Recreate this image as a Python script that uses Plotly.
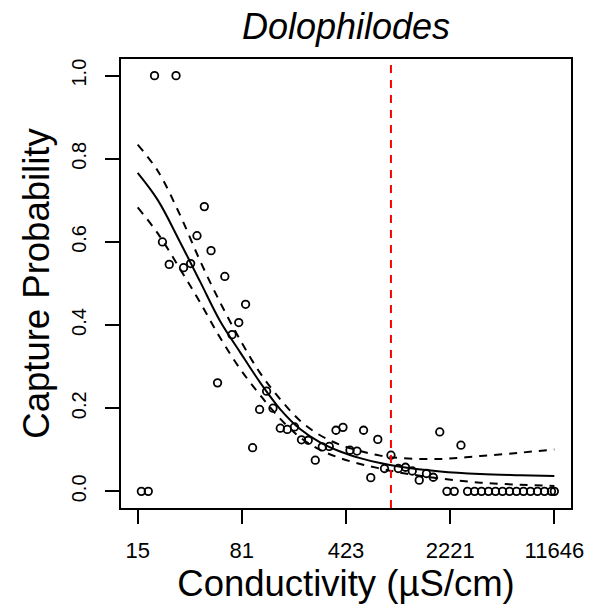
import plotly.graph_objects as go

# ---- data ----
conductivity = [16.3, 18.2, 20.1, 22.8, 25.4, 28.3, 31.9, 35.7, 39.5, 44.4, 49.4, 54.8,
                61.5, 69.0, 76.8, 85.6, 95.7, 107.0, 119.6, 132.4, 148.7, 166.2, 186.4,
                208.3, 232.1, 259.5, 290.1, 324.3, 360.8, 403.3, 450.8, 503.9, 559.7,
                627.6, 701.5, 780.4, 865.4, 972, 1090, 1214, 1357, 1522, 1696, 1881,
                2109, 2369, 2635, 2927, 3272, 3657, 4087, 4568, 5106, 5707, 6378, 7129,
                7968, 8906, 9954, 11126, 11646]
capture_prob = [0, 0, 1.0, 0.60, 0.546, 1.0, 0.538, 0.548, 0.615, 0.685, 0.579, 0.261,
                0.517, 0.377, 0.406, 0.450, 0.105, 0.197, 0.241, 0.200, 0.152, 0.149, 0.155,
                0.124, 0.123, 0.075, 0.107, 0.108, 0.147, 0.154, 0.099, 0.097, 0.147,
                0.033, 0.125, 0.055, 0.087, 0.055, 0.058, 0.049, 0.027, 0.043, 0.034, 0.143,
                0, 0, 0.111, 0, 0, 0, 0, 0, 0, 0, 0, 0,
                0, 0, 0, 0, 0]

curve_x = [15.37, 21.23, 30.14, 41.45, 56.99, 78.36, 107.75, 148.2, 203.7, 280.1,
           385.1, 529.6, 728.2, 1001.3, 1894, 3581, 6766, 11646]
fit_mid = [0.766, 0.700, 0.600, 0.505, 0.410, 0.335, 0.262, 0.198, 0.150, 0.118,
           0.096, 0.080, 0.068, 0.059, 0.048, 0.042, 0.039, 0.037]
fit_upper = [0.834, 0.770, 0.665, 0.555, 0.455, 0.365, 0.285, 0.222, 0.170, 0.135,
             0.112, 0.097, 0.086, 0.080, 0.078, 0.085, 0.093, 0.101]
fit_lower = [0.683, 0.620, 0.535, 0.455, 0.370, 0.295, 0.232, 0.175, 0.130, 0.100,
             0.080, 0.066, 0.055, 0.045, 0.031, 0.021, 0.016, 0.013]

threshold = 865
x_tick_vals = [15.37, 80.65, 423.1, 2221, 11646]
x_tick_text = ["15", "81", "423", "2221", "11646"]
y_tick_vals = [0, 0.2, 0.4, 0.6, 0.8, 1.0]
y_tick_text = ["0.0", "0.2", "0.4", "0.6", "0.8", "1.0"]

FONT = "Liberation Sans, Arial, Helvetica, sans-serif"

fig = go.Figure()
fig.add_trace(go.Scatter(x=conductivity, y=capture_prob, mode="markers",
                         marker=dict(symbol="circle-open", size=7.5, color="black",
                                     line=dict(width=1.8, color="black")),
                         cliponaxis=False, showlegend=False))
fig.add_trace(go.Scatter(x=curve_x, y=fit_mid, mode="lines", line_shape="spline",
                         line=dict(color="black", width=2), showlegend=False))
fig.add_trace(go.Scatter(x=curve_x, y=fit_upper, mode="lines", line_shape="spline",
                         line=dict(color="black", width=2, dash="8px,7px"), showlegend=False))
fig.add_trace(go.Scatter(x=curve_x, y=fit_lower, mode="lines", line_shape="spline",
                         line=dict(color="black", width=2, dash="8px,7px"), showlegend=False))
fig.add_trace(go.Scatter(x=[threshold, threshold], y=[-0.04, 1.04], mode="lines",
                         line=dict(color="#ff0000", width=2, dash="8px,7px"), showlegend=False))

fig.update_layout(
    width=604, height=607,
    margin=dict(l=121, r=33, t=59, b=99, autoexpand=False),
    plot_bgcolor="white", paper_bgcolor="white",
    font=dict(family=FONT, color="black"),
    title=dict(text="<i>Dolophilodes</i>", x=0.5, xref="paper", xanchor="center",
               y=1 - 26 / 607, yref="container", yanchor="middle", automargin=False,
               font=dict(size=36, family=FONT, color="black")),
)
fig.update_xaxes(type="log", range=[1.07149, 4.18133], automargin=False,
                 tickvals=x_tick_vals, ticktext=x_tick_text,
                 tickfont=dict(size=22, family=FONT, color="black"),
                 ticks="outside", ticklen=14, tickwidth=2, tickcolor="black",
                 ticklabelstandoff=8,
                 showline=True, mirror=True, linecolor="black", linewidth=2,
                 showgrid=False, zeroline=False,
                 title=dict(text="Conductivity (µS/cm)", standoff=5,
                            font=dict(size=36.5, family=FONT, color="black")))
fig.update_yaxes(range=[-0.04, 1.04], automargin=False,
                 tickvals=y_tick_vals, ticktext=y_tick_text, tickangle=-90,
                 tickfont=dict(size=20, family=FONT, color="black"),
                 ticks="outside", ticklen=14, tickwidth=2, tickcolor="black",
                 ticklabelstandoff=11,
                 showline=True, mirror=True, linecolor="black", linewidth=2,
                 showgrid=False, zeroline=False,
                 title=dict(text="Capture Probability", standoff=7,
                            font=dict(size=36.5, family=FONT, color="black")))

fig.write_html("out.html", config={"displayModeBar": False},
               post_script="document.body.style.margin='0';document.body.style.padding='0';")
